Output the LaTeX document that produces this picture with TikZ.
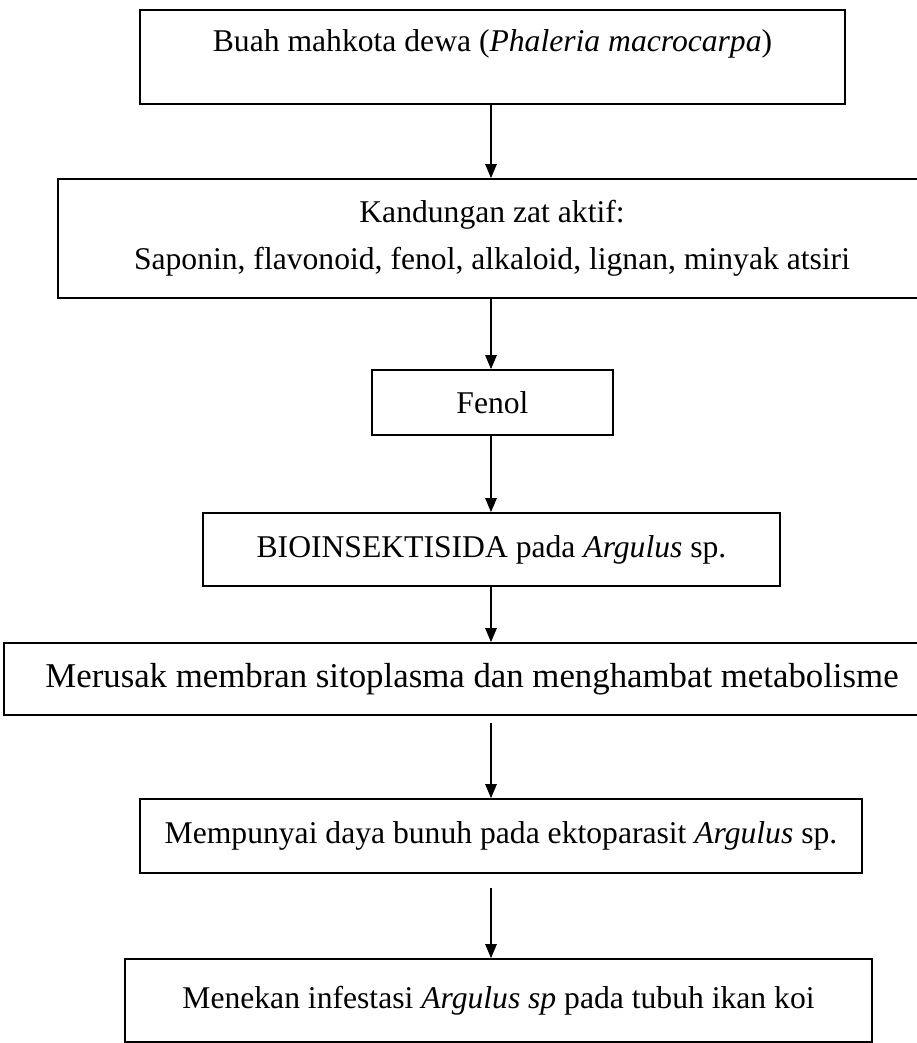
\documentclass[tikz,border=0pt]{standalone}
\usepackage{fontspec}
\setmainfont{Liberation Serif}
\usetikzlibrary{arrows.meta, positioning}

\begin{document}
\begin{tikzpicture}[
    box/.style={rectangle, draw=black, line width=1pt, inner sep=1pt,
                align=center, font=\fontsize{18}{26.7}\selectfont},
    arrow/.style={-{Triangle[length=8pt, width=6.5pt]}, line width=1pt}
]
    \useasboundingbox (0,0) rectangle (18.34,-20.86);
    \clip (0,0) rectangle (18.34,-20.86);
    \coordinate (spine) at (9.82,0);

    \node[box, minimum width=14.1cm, minimum height=1.88cm, text depth=0.66cm]
        (fruit) at (9.85,-1.14) {Buah mahkota dewa (\textit{Phaleria macrocarpa})};
    \node[box, minimum width=17.36cm, minimum height=2.38cm]
        (content) at (9.84,-4.77) {Kandungan zat aktif:\\Saponin, flavonoid, fenol, alkaloid, lignan, minyak atsiri};
    \node[box, minimum width=4.82cm, minimum height=1.3cm]
        (phenol) at (9.85,-8.05) {Fenol};
    \node[box, minimum width=11.54cm, minimum height=1.46cm]
        (bioins) at (9.83,-10.99) {BIOINSEKTISIDA pada \textit{Argulus} sp.};
    \node[box, minimum width=18.72cm, minimum height=1.44cm, font=\fontsize{19.8}{24}\selectfont]
        (damage) at (9.44,-13.58) {Merusak membran sitoplasma dan menghambat metabolisme};
    \node[box, minimum width=14.44cm, minimum height=1.48cm]
        (kill) at (10.02,-16.72) {Mempunyai daya bunuh pada ektoparasit \textit{Argulus} sp.};
    \node[box, minimum width=14.94cm, minimum height=1.66cm]
        (suppress) at (9.97,-20.01) {Menekan infestasi \textit{Argulus sp} pada tubuh ikan koi};

    \draw[arrow] (fruit.south -| spine) -- (content.north -| spine);
    \draw[arrow] (content.south -| spine) -- (phenol.north -| spine);
    \draw[arrow] (phenol.south -| spine) -- (bioins.north -| spine);
    \draw[arrow] (bioins.south -| spine) -- (damage.north -| spine);
    \draw[arrow, shorten <=0.14cm] (damage.south -| spine) -- (kill.north -| spine);
    \draw[arrow, shorten <=0.28cm] (kill.south -| spine) -- (suppress.north -| spine);
\end{tikzpicture}
\end{document}
